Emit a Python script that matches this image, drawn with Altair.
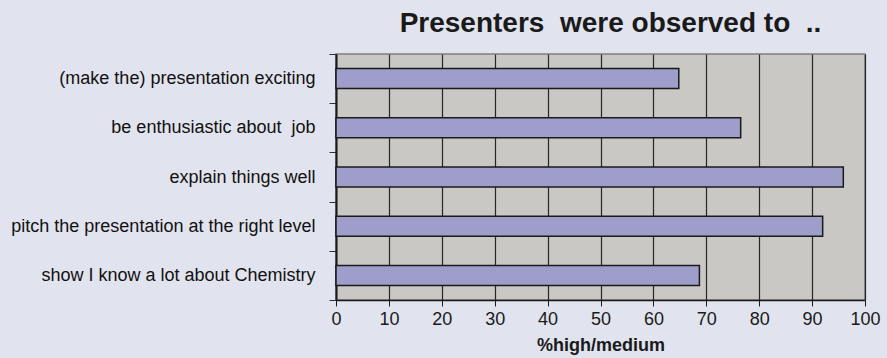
import altair as alt
import pandas as pd

# Survey items, listed top to bottom, and the share answering high/medium
behaviours = [
    "(make the) presentation exciting",
    "be enthusiastic about \u00a0job",
    "explain things well",
    "pitch the presentation at the right level",
    "show I know a lot about Chemistry",
]
pct_high_medium = [64.8, 76.5, 95.9, 92.0, 68.7]
x_ticks = [0, 10, 20, 30, 40, 50, 60, 70, 80, 90, 100]

df = pd.DataFrame({"behaviour": behaviours, "pct": pct_high_medium})

FONT = "Liberation Sans"
INK = "#1a1a1a"

bars = alt.Chart(df).mark_bar(
    size=20, fill="#9f9dc9", stroke=INK, strokeWidth=1.5
).encode(
    x=alt.X(
        "pct:Q",
        scale=alt.Scale(domain=[0, 100], nice=False, zero=True),
        axis=alt.Axis(
            values=x_ticks,
            title="%high/medium",
            grid=True,
            gridColor="#262626",
            gridWidth=1.2,
            domainColor=INK,
            domainWidth=1.5,
            tickColor=INK,
            tickSize=6,
            labelFontSize=18,
            labelColor=INK,
            labelPadding=4,
            labelFlush=False,
            titleFontSize=18,
            titleFontWeight="bold",
            titleColor=INK,
            titlePadding=8,
        ),
    ),
    y=alt.Y(
        "behaviour:N",
        sort=behaviours,
        scale=alt.Scale(paddingInner=0, paddingOuter=0),
        axis=alt.Axis(
            title=None,
            grid=False,
            tickBand="extent",
            domainColor=INK,
            domainWidth=2,
            tickColor="#333333",
            tickSize=7,
            labelFontSize=18,
            labelColor="#111111",
            labelPadding=14,
            labelLimit=400,
        ),
    ),
)

chart = bars.properties(
    width=529,
    height=246,
    autosize=alt.AutoSizeParams(type="none"),
    padding={"left": 336, "top": 54, "right": 22, "bottom": 58},
    background="#e1e4ee",
    title=alt.TitleParams(
        text="Presenters \u00a0were observed to \u00a0..",
        font=FONT,
        fontSize=28,
        fontWeight="bold",
        color=INK,
        anchor="middle",
        frame="group",
        dx=10,
        offset=7,
    ),
).configure(font=FONT).configure_view(
    fill="#c9c8c4", stroke="#7f7f7f", strokeWidth=1.5
)

chart.save("out.html", embed_options={"renderer": "svg", "actions": False})
